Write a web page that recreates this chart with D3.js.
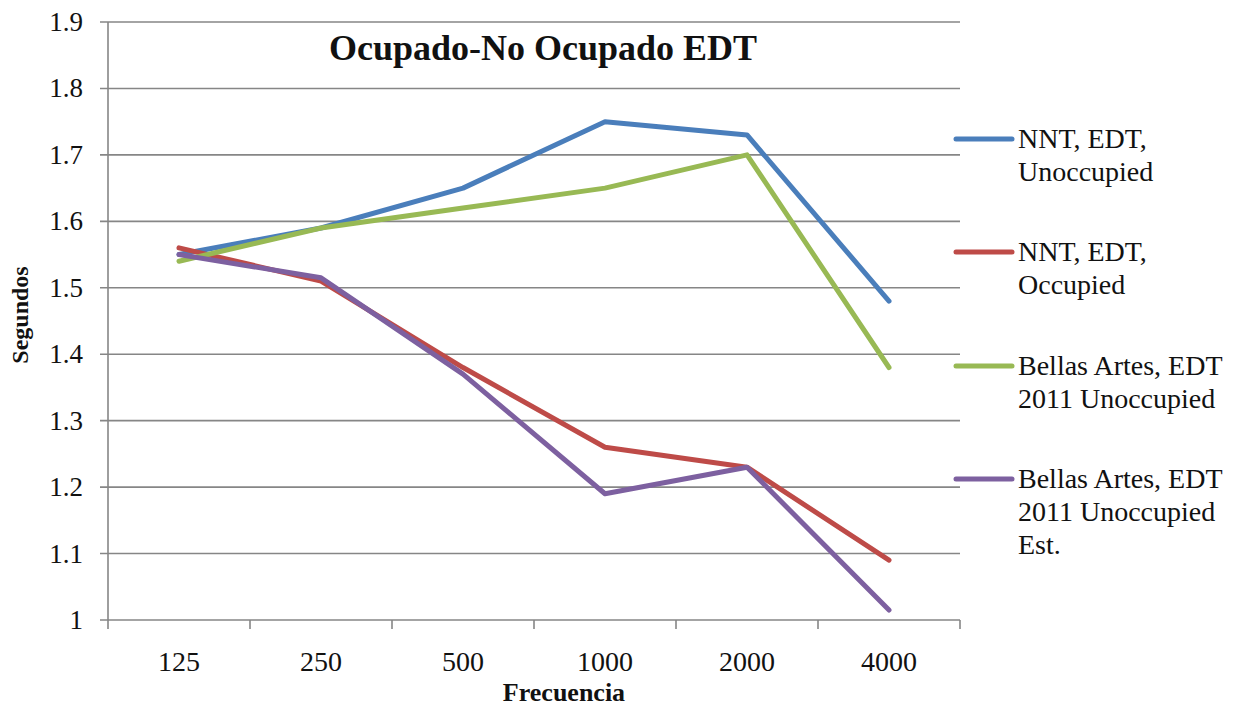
<!DOCTYPE html>
<html>
<head>
<meta charset="utf-8">
<script src="https://cdn.jsdelivr.net/npm/d3@7"></script>
<style>
  html, body { margin: 0; padding: 0; background: #fff; }
  svg { display: block; }
  text { font-family: "Liberation Serif", "DejaVu Serif", serif; fill: #111; }
</style>
</head>
<body>
<svg id="chart" width="1235" height="706"></svg>
<script>
// Frequency bands (Hz)
const frequencies = ["125", "250", "500", "1000", "2000", "4000"];

// EDT values in seconds per band
const nntUnoccupied = [1.55, 1.59, 1.65, 1.75, 1.73, 1.48];
const nntOccupied = [1.56, 1.51, 1.38, 1.26, 1.23, 1.09];
const bellasUnoccupied = [1.54, 1.59, 1.62, 1.65, 1.70, 1.38];
const bellasEstimated = [1.55, 1.515, 1.37, 1.19, 1.23, 1.015];

const seriesNames = [
  ["NNT, EDT,", "Unoccupied"],
  ["NNT, EDT,", "Occupied"],
  ["Bellas Artes, EDT", "2011 Unoccupied"],
  ["Bellas Artes, EDT", "2011 Unoccupied", "Est."]
];
const seriesColors = ["#4a7ebb", "#be4b48", "#98b954", "#7d60a0"];
const yTicks = [1, 1.1, 1.2, 1.3, 1.4, 1.5, 1.6, 1.7, 1.8, 1.9];

const series = [nntUnoccupied, nntOccupied, bellasUnoccupied, bellasEstimated].map((vals, i) => ({
  name: seriesNames[i],
  color: seriesColors[i],
  values: vals
}));

const svg = d3.select("#chart");
const plot = { left: 108, right: 960, top: 22, bottom: 620 };
const grey = "#868686";

const x = d3.scaleBand().domain(frequencies).range([plot.left, plot.right]).padding(0);
const y = d3.scaleLinear().domain([1, 1.9]).range([plot.bottom, plot.top]);

// Horizontal gridlines
svg.append("g")
  .selectAll("line")
  .data(yTicks)
  .join("line")
  .attr("x1", plot.left - 8)
  .attr("x2", plot.right)
  .attr("y1", d => y(d))
  .attr("y2", d => y(d))
  .attr("stroke", grey)
  .attr("stroke-width", 1.6);

// Y axis line
svg.append("line")
  .attr("x1", plot.left).attr("x2", plot.left)
  .attr("y1", plot.top).attr("y2", plot.bottom + 9)
  .attr("stroke", grey).attr("stroke-width", 1.6);

// Y tick labels
svg.append("g")
  .selectAll("text")
  .data(yTicks)
  .join("text")
  .attr("x", 83)
  .attr("y", d => y(d) + 9)
  .attr("text-anchor", "end")
  .attr("font-size", 27)
  .text(d => d3.format("")(Math.round(d * 10) / 10));

// X category boundary ticks
const boundaries = frequencies.map(f => x(f)).concat([plot.right]);
svg.append("g")
  .selectAll("line")
  .data(boundaries.slice(1))
  .join("line")
  .attr("x1", d => d).attr("x2", d => d)
  .attr("y1", plot.bottom).attr("y2", plot.bottom + 9)
  .attr("stroke", grey).attr("stroke-width", 1.6);

// X tick labels
svg.append("g")
  .selectAll("text")
  .data(frequencies)
  .join("text")
  .attr("x", d => x(d) + x.bandwidth() / 2)
  .attr("y", 671)
  .attr("text-anchor", "middle")
  .attr("font-size", 28)
  .text(d => d);

// Series lines
const line = d3.line()
  .x((d, i) => x(frequencies[i]) + x.bandwidth() / 2)
  .y(d => y(d));

svg.append("g")
  .selectAll("path")
  .data(series)
  .join("path")
  .attr("d", d => line(d.values))
  .attr("fill", "none")
  .attr("stroke", d => d.color)
  .attr("stroke-width", 5)
  .attr("stroke-linejoin", "round")
  .attr("stroke-linecap", "round");

// Title
svg.append("text")
  .attr("x", 543)
  .attr("y", 60)
  .attr("text-anchor", "middle")
  .attr("font-size", 36)
  .attr("font-weight", "bold")
  .text("Ocupado-No Ocupado EDT");

// Axis titles
svg.append("text")
  .attr("transform", "translate(28,315) rotate(-90)")
  .attr("text-anchor", "middle")
  .attr("font-size", 24)
  .attr("font-weight", "bold")
  .text("Segundos");

svg.append("text")
  .attr("x", 564)
  .attr("y", 701)
  .attr("text-anchor", "middle")
  .attr("font-size", 26)
  .attr("font-weight", "bold")
  .text("Frecuencia");

// Legend
const legendY = [139, 252, 366, 479];
const legend = svg.append("g")
  .selectAll("g")
  .data(series)
  .join("g")
  .attr("transform", (d, i) => `translate(0,${legendY[i]})`);

legend.append("line")
  .attr("x1", 956).attr("x2", 1012)
  .attr("y1", 0).attr("y2", 0)
  .attr("stroke", d => d.color)
  .attr("stroke-width", 5)
  .attr("stroke-linecap", "round");

legend.append("text")
  .attr("x", 1018)
  .attr("font-size", 28)
  .selectAll("tspan")
  .data(d => d.name)
  .join("tspan")
  .attr("x", 1018)
  .attr("y", (d, i) => 9 + i * 33)
  .text(d => d);
</script>
</body>
</html>
